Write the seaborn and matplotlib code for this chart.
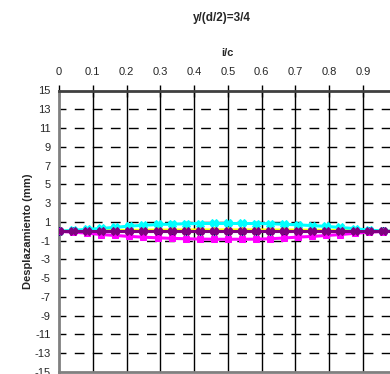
import numpy as np
import pandas as pd
import matplotlib
matplotlib.use("Agg")
import matplotlib.pyplot as plt
import seaborn as sns

# datos (x = i/c, 25 puntos de 0 a 1)
x_ic = [0.0, 0.0417, 0.0833, 0.125, 0.1667, 0.2083, 0.25, 0.2917, 0.3333,
        0.375, 0.4167, 0.4583, 0.5, 0.5417, 0.5833, 0.625, 0.6667, 0.7083,
        0.75, 0.7917, 0.8333, 0.875, 0.9167, 0.9583, 1.0]

serie_azul = [0.0] * 25
serie_amarilla = [0.0, 0.02, 0.04, 0.06, 0.08, 0.1, 0.11, 0.12, 0.13, 0.13, 0.14, 0.14,
                  0.14, 0.14, 0.14, 0.13, 0.13, 0.12, 0.11, 0.1, 0.08, 0.06, 0.04, 0.02, 0.0]
serie_cian = [0.0, 0.1, 0.2, 0.3, 0.42, 0.55, 0.63, 0.72, 0.76, 0.8, 0.82, 0.83,
              0.83, 0.83, 0.82, 0.8, 0.75, 0.68, 0.6, 0.52, 0.4, 0.28, 0.12, 0.03, 0.0]
serie_magenta = [0.0, -0.1, -0.2, -0.35, -0.45, -0.55, -0.63, -0.7, -0.76, -0.8, -0.83,
                 -0.85, -0.85, -0.85, -0.84, -0.8, -0.72, -0.62, -0.55, -0.45, -0.35,
                 -0.22, -0.1, -0.03, 0.0]
serie_purpura = [0.0] * 25

y_ticks = list(range(15, -16, -2))
x_ticks = [0, 0.1, 0.2, 0.3, 0.4, 0.5, 0.6, 0.7, 0.8, 0.9, 1.0]
x_ticklabels = ['0', '0.1', '0.2', '0.3', '0.4', '0.5', '0.6', '0.7', '0.8', '0.9', '']

sns.set_style('white')
plt.rcParams['font.family'] = ['Liberation Sans', 'DejaVu Sans']
plt.rcParams['axes.unicode_minus'] = False

fig = plt.figure(figsize=(3.9, 3.74), dpi=100)
ax = fig.add_axes([59 / 390, 1 - 372 / 374, (396.8 - 59) / 390, (372 - 90.5) / 374])

# rejilla
for xv in x_ticks[1:]:
    ax.axvline(xv, color='black', lw=1.0, zorder=1)
for yv in y_ticks[1:-1]:
    ax.axhline(yv, color='black', lw=1.0, ls=(2, (7, 6)), zorder=1)

series = [
    (serie_azul, '#000080', 'D', 4),
    (serie_amarilla, '#FFFF00', '^', 4),
    (serie_cian, '#00FFFF', 'X', 5.5),
    (serie_magenta, '#FF00FF', 's', 5),
    (serie_purpura, '#800080', 'X', 6),
]
for vals, col, mk, ms in series:
    df = pd.DataFrame({'i/c': x_ic, 'desp': vals})
    sns.lineplot(data=df, x='i/c', y='desp', color=col, lw=2.2, marker=mk,
                 markersize=ms, markeredgecolor=col, ax=ax, zorder=3)

ax.set_xlim(0, 1)
ax.set_ylim(-15, 15)
ax.set_yticks(y_ticks)
ax.set_yticklabels([str(v) for v in y_ticks], fontsize=8)
ax.set_xticks(x_ticks)
ax.set_xticklabels(x_ticklabels, fontsize=8)
ax.xaxis.tick_top()
ax.xaxis.set_label_position('top')
ax.tick_params(axis='both', direction='inout', length=8, width=1, color='black')
ax.tick_params(axis='x', pad=6)
ax.tick_params(axis='y', pad=2)

for side in ['top', 'left', 'bottom']:
    ax.spines[side].set_color('#808080')
    ax.spines[side].set_linewidth(2)
ax.spines['top'].set_color('#404040')
ax.spines['right'].set_visible(False)

ax.set_xlabel('i/c', fontsize=8, fontweight='bold', labelpad=8)
ax.set_ylabel('Desplazamiento (mm)', fontsize=8, fontweight='bold', labelpad=1)

fig.text(222 / 390, 1 - 18 / 374, 'y/(d/2)=3/4', ha='center', va='center',
         fontsize=8.5, fontweight='bold')

plt.savefig('out.png', dpi=100)
plt.close()
